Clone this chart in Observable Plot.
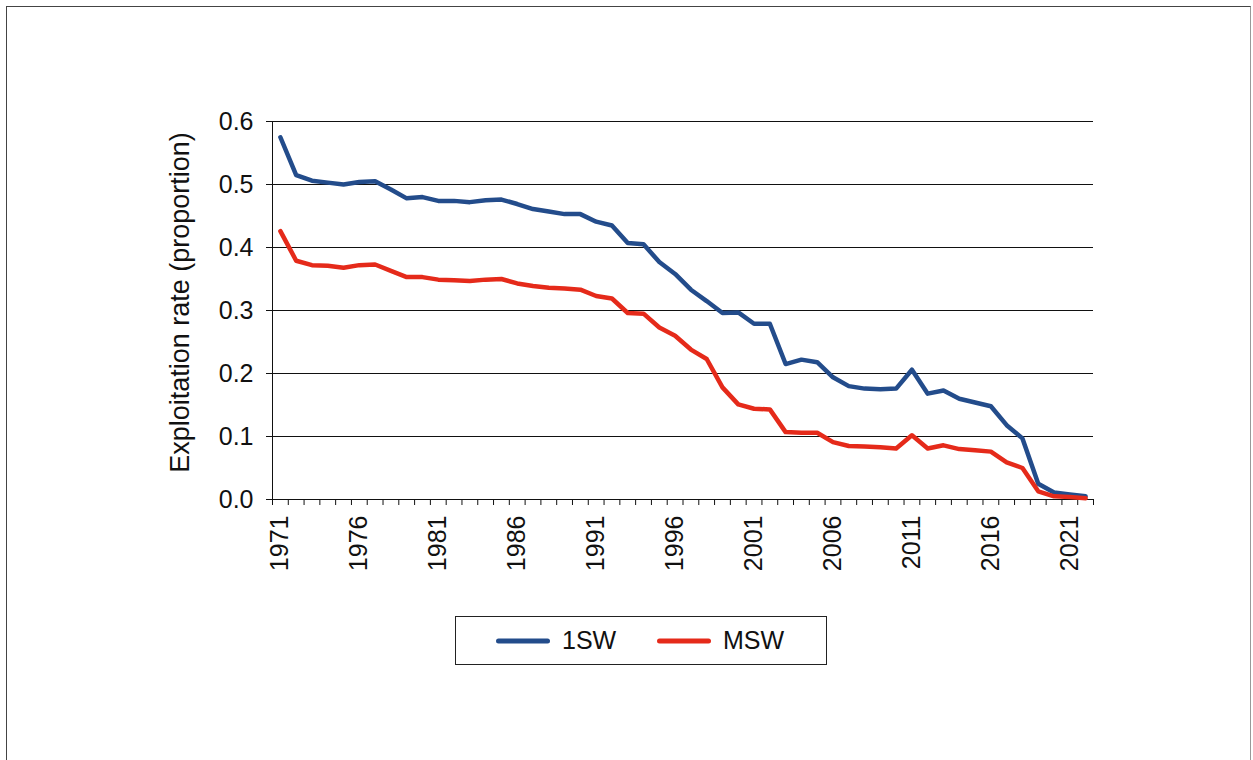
<!DOCTYPE html>
<html>
<head>
<meta charset="utf-8">
<script src="https://cdn.jsdelivr.net/npm/d3@7"></script>
<script src="https://cdn.jsdelivr.net/npm/@observablehq/plot@0.6"></script>
<style>
  html, body { margin: 0; padding: 0; background: #fff; }
  #wrap { position: relative; width: 1253px; height: 760px; overflow: hidden; font-family: "Liberation Sans", Arial, sans-serif; }
  #border { position: absolute; left: 6px; top: 6px; width: 1245px; height: 800px; border: 1px solid #444; border-right-color: #999; box-sizing: border-box; }
  #chart { position: absolute; left: 0; top: 0; }
  #legend { position: absolute; left: 455px; top: 616px; width: 372px; height: 49px; border: 1px solid #222; box-sizing: border-box; background: #fff; }
  .item { position: absolute; top: 0; height: 47px; display: flex; align-items: center; font-size: 25px; color: #111; }
  .item svg { margin-right: 12px; }
</style>
</head>
<body>
<div id="wrap">
  <div id="border"></div>
  <div id="chart"></div>
  <div id="legend"></div>
</div>
<script>
const years = [1971,1972,1973,1974,1975,1976,1977,1978,1979,1980,
  1981,1982,1983,1984,1985,1986,1987,1988,1989,1990,
  1991,1992,1993,1994,1995,1996,1997,1998,1999,2000,
  2001,2002,2003,2004,2005,2006,2007,2008,2009,2010,
  2011,2012,2013,2014,2015,2016,2017,2018,2019,2020,
  2021,2022];

const oneSW = [0.575,0.515,0.506,0.503,0.500,0.504,0.505,0.492,0.478,0.480,
  0.474,0.474,0.472,0.475,0.476,0.469,0.461,0.457,0.453,0.453,
  0.441,0.435,0.407,0.405,0.377,0.358,0.333,0.315,0.296,0.297,
  0.279,0.279,0.215,0.222,0.218,0.194,0.180,0.176,0.175,0.176,
  0.206,0.168,0.173,0.160,0.154,0.148,0.118,0.097,0.025,0.011,
  0.008,0.005];

const msw = [0.426,0.379,0.372,0.371,0.368,0.372,0.373,0.363,0.353,0.353,
  0.349,0.348,0.347,0.349,0.350,0.343,0.339,0.336,0.335,0.333,
  0.323,0.319,0.296,0.295,0.273,0.260,0.238,0.223,0.178,0.151,
  0.144,0.143,0.107,0.106,0.106,0.091,0.085,0.084,0.083,0.081,
  0.102,0.081,0.086,0.080,0.078,0.076,0.059,0.050,0.013,0.005,
  0.004,0.002];

const yTicks = [0, 0.1, 0.2, 0.3, 0.4, 0.5, 0.6];
const xLabelYears = [1971,1976,1981,1986,1991,1996,2001,2006,2011,2016,2021];
const seriesNames = ["1SW", "MSW"];
const seriesColors = ["#234c8b", "#e52a1a"];
const yLabel = "Exploitation rate (proportion)";

const xDomain = [years[0] - 0.5, years[years.length - 1] + 0.5];
const boundaries = years.map(y => y - 0.5).concat([years[years.length - 1] + 0.5]);

const rows = [];
years.forEach((yr, i) => {
  rows.push({year: yr, value: oneSW[i], series: seriesNames[0]});
  rows.push({year: yr, value: msw[i], series: seriesNames[1]});
});

const chart = Plot.plot({
  width: 1253,
  height: 600,
  marginLeft: 272,
  marginRight: 160,
  marginTop: 121,
  marginBottom: 101,
  style: {fontFamily: "Liberation Sans, Arial, sans-serif", fontSize: "25px", color: "#111", background: "transparent"},
  x: {type: "linear", domain: xDomain},
  y: {domain: [0, 0.6]},
  color: {domain: seriesNames, range: seriesColors},
  marks: [
    Plot.ruleY(yTicks.filter(d => d > 0), {stroke: "#111", strokeWidth: 1}),
    Plot.axisY({ticks: yTicks, tickFormat: d3.format(".1f"), tickSize: 6, tickPadding: 13, fontSize: 25, label: null, stroke: "#111"}),
    Plot.axisX({ticks: boundaries, tickFormat: () => "", tickSize: 6, label: null, stroke: "#111"}),
    Plot.axisX({ticks: xLabelYears, tickFormat: d => String(d), tickSize: 0, tickPadding: 16, tickRotate: -90, fontSize: 25, label: null}),
    Plot.ruleY([0], {stroke: "#111", strokeWidth: 1}),
    Plot.ruleX([xDomain[0]], {stroke: "#111", strokeWidth: 1}),
    Plot.line(rows, {x: "year", y: "value", stroke: "series", z: "series", strokeWidth: 4.5, strokeLinejoin: "round", strokeLinecap: "round"}),
    Plot.text([yLabel], {frameAnchor: "left", textAnchor: "middle", lineAnchor: "middle", rotate: -90, dx: -92, dy: -8, fontSize: 27, fill: "#111", text: d => d})
  ]
});
document.getElementById("chart").appendChild(chart);

const legend = document.getElementById("legend");
const positions = [[40, 106], [201, 270]];
seriesNames.forEach((name, i) => {
  const item = document.createElement("div");
  item.className = "item";
  item.style.left = positions[i][0] + "px";
  item.innerHTML = `<svg width="54" height="10"><line x1="2.5" x2="51.5" y1="5" y2="5" stroke="${seriesColors[i]}" stroke-width="5" stroke-linecap="round"/></svg><span>${name}</span>`;
  legend.appendChild(item);
});
</script>
</body>
</html>
